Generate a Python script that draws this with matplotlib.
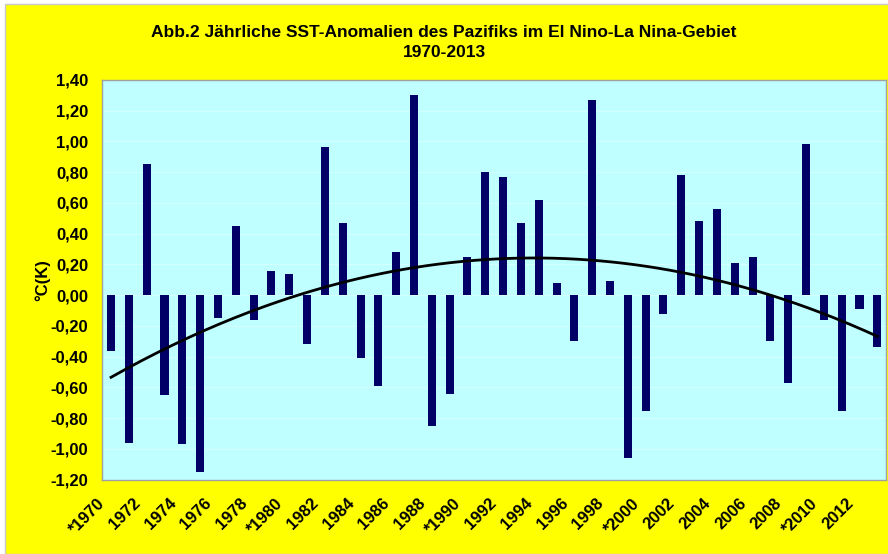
import numpy as np
import matplotlib.pyplot as plt
import matplotlib.patches as patches
import matplotlib.transforms as mtransforms

plt.rcParams['font.family'] = ['Liberation Sans', 'DejaVu Sans']

years = list(range(1970, 2014))
anomalies = [-0.36, -0.96, 0.85, -0.65, -0.97, -1.15, -0.15, 0.45, -0.16, 0.16,
             0.14, -0.32, 0.96, 0.47, -0.41, -0.59, 0.28, 1.30, -0.85, -0.64,
             0.25, 0.80, 0.77, 0.47, 0.62, 0.08, -0.30, 1.27, 0.09, -1.06,
             -0.75, -0.12, 0.78, 0.48, 0.56, 0.21, 0.25, -0.30, -0.57, 0.98,
             -0.16, -0.75, -0.09, -0.34]
xlabels = ['*1970', '1972', '1974', '1976', '1978', '*1980', '1982', '1984',
           '1986', '1988', '*1990', '1992', '1994', '1996', '1998', '*2000',
           '2002', '2004', '2006', '2008', '*2010', '2012']
yticks = [1.4, 1.2, 1.0, 0.8, 0.6, 0.4, 0.2, 0.0, -0.2, -0.4, -0.6, -0.8, -1.0, -1.2]

fig = plt.figure(figsize=(8.88, 5.54), dpi=100, facecolor='white')
# yellow chart area with thin grey frame
bg = patches.Rectangle((5 / 888, 0), 1, 1 - 4 / 554, transform=fig.transFigure,
                       facecolor='#ffff00', edgecolor='#c8c8c8', lw=1, zorder=-10)
fig.patches.append(bg)

ax = fig.add_axes([0.115, 0.134, 0.883, 0.722])
ax.set_facecolor('#bfffff')

x = np.arange(len(years))
ax.bar(x, anomalies, width=0.45, color='#000066', zorder=3)

# polynomial trend (order 2) like the Excel trendline
coef = np.polyfit(x, anomalies, 2)
xs = np.linspace(0, len(years) - 1, 200)
ax.plot(xs, np.polyval(coef, xs), color='black', lw=2, zorder=4)

ax.set_xlim(-0.5, len(years) - 0.5)
ax.set_ylim(-1.2, 1.4)
ax.set_yticks(yticks)
ax.set_yticklabels([('%.2f' % v).replace('.', ',') for v in yticks],
                   fontsize=12, fontweight='bold')

# x labels drawn as text, shifted like Excel's rotated labels
ax.set_xticks(x[::2])
ax.set_xticklabels([])
trans = mtransforms.blended_transform_factory(ax.transData, ax.transAxes) + \
    mtransforms.ScaledTranslation(-14 / 100, -16 / 100, fig.dpi_scale_trans)
for xi, lab in zip(x[::2], xlabels):
    ax.text(xi, 0, lab, transform=trans, rotation=45, ha='right', va='top',
            rotation_mode='anchor', fontsize=12, fontweight='bold', clip_on=False)

ax.tick_params(axis='y', length=0, pad=10)
ax.tick_params(axis='x', length=0)
ax.grid(axis='y', color='#d8ffff', lw=0.6, zorder=0)
for s in ax.spines.values():
    s.set_color('#a0a0a0')
    s.set_linewidth(1)

ax.set_ylabel('°C(K)', fontsize=12, fontweight='bold', labelpad=0)
fig.text(0.5, 0.923, 'Abb.2 Jährliche SST-Anomalien des Pazifiks im El Nino-La Nina-Gebiet\n1970-2013',
         ha='center', va='center', fontsize=12.5, fontweight='bold', linespacing=1.4)

fig.savefig('out.png', dpi=100, facecolor=fig.get_facecolor())
